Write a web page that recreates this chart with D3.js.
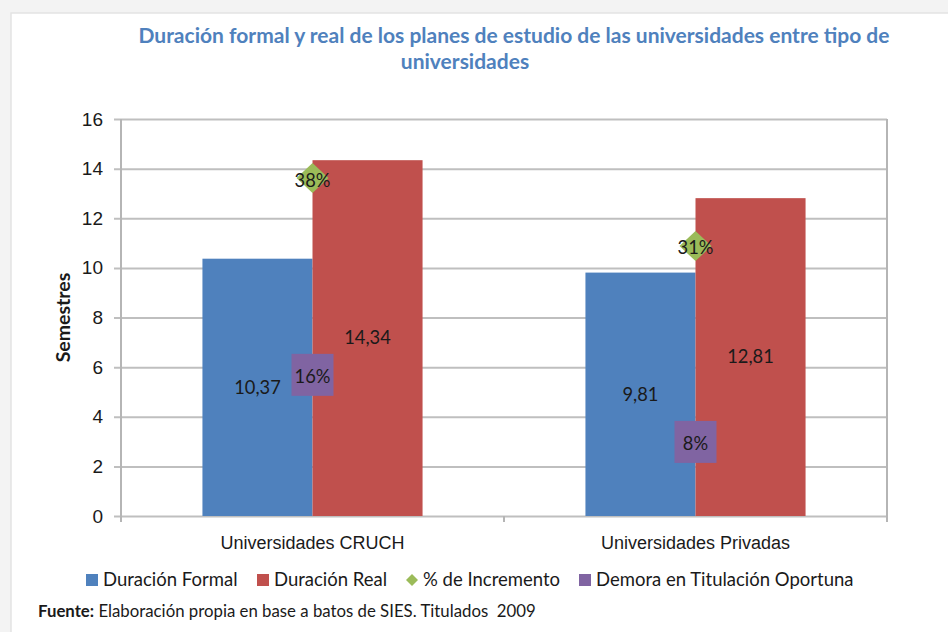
<!DOCTYPE html>
<html>
<head>
<meta charset="utf-8">
<script src="https://cdn.jsdelivr.net/npm/d3@7"></script>
<style>
  html, body { margin: 0; padding: 0; background: #f2f2f2; }
  svg { display: block; font-family: Lato, "Open Sans", sans-serif; }
</style>
</head>
<body>
<svg id="chart" width="948" height="632"></svg>
<script>
// data
const categories = ["Universidades CRUCH", "Universidades Privadas"];
const duracionFormal = [10.37, 9.81];
const duracionReal = [14.34, 12.81];
const pctIncremento = [0.383, 0.306];   // % de Incremento (eje secundario oculto)
const demoraTitulacion = [0.16, 0.084]; // Demora en Titulación Oportuna
const yTicks = [0, 2, 4, 6, 8, 10, 12, 14, 16];
const series = ["Duración Formal", "Duración Real"];
const legendLabels = ["Duración Formal", "Duración Real", "% de Incremento", "Demora en Titulación Oportuna"];

const colors = {
  "Duración Formal": "#4f81bd",
  "Duración Real": "#c0504d",
  "% de Incremento": "#9bbb59",
  "Demora en Titulación Oportuna": "#8064a2"
};

const locale = d3.formatLocale({decimal: ",", thousands: ".", grouping: [3], currency: ["$", ""]});
const fmtNum = locale.format(".2f");
const fmtPct = d3.format(".0%");

const svg = d3.select("#chart");

// page background (white sheet with grey margin)
svg.append("rect").attr("width", 948).attr("height", 632).attr("fill", "#f3f3f3");
svg.append("rect").attr("x", 11).attr("y", 13).attr("width", 948).attr("height", 632)
  .attr("fill", "#fff").attr("stroke", "#e4e4e4").attr("stroke-width", 1.5);

const plot = {left: 121, right: 887, top: 119, bottom: 516};

const y = d3.scaleLinear().domain([0, 16]).range([plot.bottom, plot.top]);
const y2 = d3.scaleLinear().domain([0, 0.45]).range([plot.bottom, plot.top]);

const x0 = d3.scaleBand().domain(categories).range([plot.left, plot.right]);
const x1 = d3.scaleBand().domain(series).range([0, x0.bandwidth()]).paddingOuter(0.74);

// gridlines + tick labels (axis placed on the right edge so ticks reach across)
const yAxis = svg.append("g")
  .attr("transform", `translate(${plot.right},0)`)
  .call(d3.axisLeft(y).tickValues(yTicks).tickSize(plot.right - plot.left + 7).tickPadding(11).tickSizeOuter(0));
yAxis.select(".domain").remove();
yAxis.selectAll(".tick line").attr("stroke", "#bfbfbf").attr("stroke-width", 2);
yAxis.selectAll(".tick text").attr("font-size", 19).attr("fill", "#1a1a1a");

// y axis line and right border
svg.append("line").attr("x1", plot.left).attr("x2", plot.left)
  .attr("y1", plot.top).attr("y2", plot.bottom + 6).attr("stroke", "#b5b5b5").attr("stroke-width", 2);
svg.append("line").attr("x1", plot.right).attr("x2", plot.right)
  .attr("y1", plot.top).attr("y2", plot.bottom + 6).attr("stroke", "#b5b5b5").attr("stroke-width", 2);

// category separator ticks
const midTicks = categories.slice(1).map(c => x0(c));
svg.selectAll(".cat-tick").data(midTicks).join("line")
  .attr("x1", d => d).attr("x2", d => d)
  .attr("y1", plot.bottom).attr("y2", plot.bottom + 6)
  .attr("stroke", "#b5b5b5").attr("stroke-width", 2);

// x axis labels
const xAxis = svg.append("g")
  .attr("transform", `translate(0,${plot.bottom})`)
  .call(d3.axisBottom(x0).tickSize(0).tickPadding(20));
xAxis.select(".domain").remove();
xAxis.selectAll(".tick text").attr("font-size", 18).attr("fill", "#1a1a1a");

// y axis title
svg.append("text")
  .attr("transform", `translate(70,${(plot.top + plot.bottom) / 2}) rotate(-90)`)
  .attr("text-anchor", "middle")
  .attr("font-size", 19.5).attr("font-weight", "bold").attr("fill", "#1a1a1a")
  .text("Semestres");

// bars
const barData = categories.flatMap((c, i) => [
  {cat: c, key: "Duración Formal", value: duracionFormal[i]},
  {cat: c, key: "Duración Real", value: duracionReal[i]}
]);

svg.selectAll(".bar").data(barData).join("rect")
  .attr("class", "bar")
  .attr("x", d => x0(d.cat) + x1(d.key))
  .attr("y", d => y(d.value))
  .attr("width", x1.bandwidth())
  .attr("height", d => y(0) - y(d.value))
  .attr("fill", d => colors[d.key]);

svg.selectAll(".bar-label").data(barData).join("text")
  .attr("x", d => x0(d.cat) + x1(d.key) + x1.bandwidth() / 2)
  .attr("y", d => (y(d.value) + y(0)) / 2)
  .attr("dy", "0.35em")
  .attr("text-anchor", "middle")
  .attr("font-size", 18.3).attr("fill", "#1a1a1a")
  .text(d => fmtNum(d.value));

// markers sit on the category centre
const cx = c => x0(c) + x0.bandwidth() / 2;

// purple squares: demora
svg.selectAll(".demora").data(demoraTitulacion).join("rect")
  .attr("x", (d, i) => cx(categories[i]) - 21)
  .attr("y", d => y2(d) - 21)
  .attr("width", 42).attr("height", 42)
  .attr("fill", colors["Demora en Titulación Oportuna"]);

// green diamonds: % de incremento
svg.selectAll(".incr").data(pctIncremento).join("path")
  .attr("transform", (d, i) => `translate(${cx(categories[i])},${y2(d)})`)
  .attr("d", "M0,-15L16,0L0,15L-16,0Z")
  .attr("fill", colors["% de Incremento"]);

const markerLabels = categories.flatMap((c, i) => [
  {cat: c, v: pctIncremento[i]},
  {cat: c, v: demoraTitulacion[i]}
]);
svg.selectAll(".marker-label").data(markerLabels).join("text")
  .attr("x", d => cx(d.cat))
  .attr("y", d => y2(d.v) + 2)
  .attr("dy", "0.35em")
  .attr("text-anchor", "middle")
  .attr("font-size", 18.3).attr("fill", "#1a1a1a")
  .text(d => fmtPct(d.v));

// title
const title = svg.append("g").attr("font-weight", "bold").attr("fill", "#4f81bd").attr("font-size", 21);
title.append("text").attr("x", 514).attr("y", 43).attr("text-anchor", "middle")
  .text("Duración formal y real de los planes de estudio de las universidades entre tipo de");
title.append("text").attr("x", 465).attr("y", 69).attr("text-anchor", "middle")
  .text("universidades");

// legend
const legendX = [86, 257, 406, 579];
const legend = svg.append("g").attr("transform", "translate(0,580)");
const items = legend.selectAll("g").data(legendLabels).join("g")
  .attr("transform", (d, i) => `translate(${legendX[i]},0)`);
items.each(function(d) {
  const g = d3.select(this);
  if (d === "% de Incremento") {
    g.append("path").attr("d", "M6,-6L12,0L6,6L0,0Z").attr("fill", colors[d]);
  } else {
    g.append("rect").attr("x", 0).attr("y", -6).attr("width", 12).attr("height", 12).attr("fill", colors[d]);
  }
  g.append("text").attr("x", 17).attr("dy", "0.35em")
    .attr("font-size", 18.5).attr("fill", "#1a1a1a").text(d);
});

// source note
const src = svg.append("text").attr("x", 38).attr("y", 617).attr("font-size", 16.8).attr("fill", "#1a1a1a")
  .attr("xml:space", "preserve").style("white-space", "pre");
src.append("tspan").attr("font-weight", "bold").text("Fuente:");
src.append("tspan").text(" Elaboración propia en base a batos de SIES. Titulados  2009");
</script>
</body>
</html>
